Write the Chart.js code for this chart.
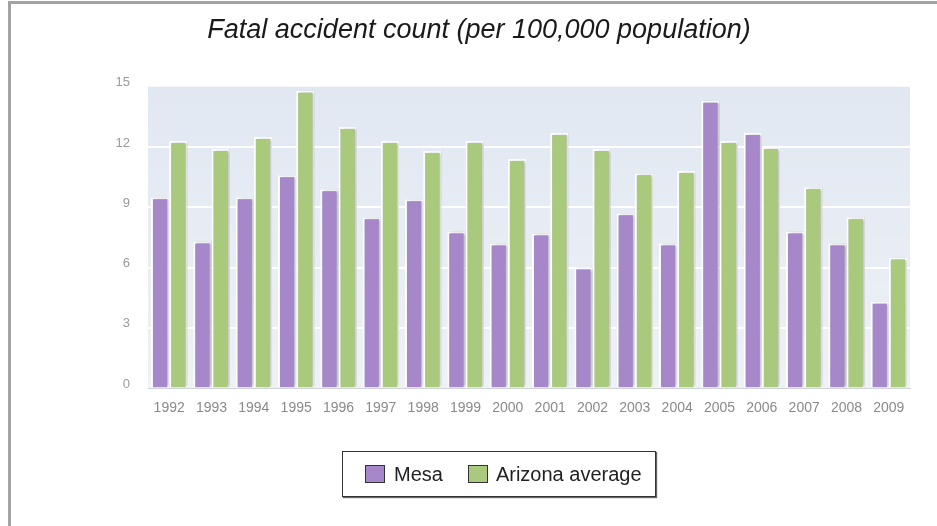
<!DOCTYPE html>
<html>
<head>
<meta charset="utf-8">
<script src="https://cdn.jsdelivr.net/npm/chart.js@4/dist/chart.umd.min.js"></script>
<style>
  html, body { margin: 0; padding: 0; width: 937px; height: 526px; overflow: hidden; background: #fff; }
  #frame { position: absolute; left: 8px; top: 1px; width: 960px; height: 560px;
           border-top: 3px solid #a3a3a3; border-left: 3px solid #a3a3a3; }
  #wrap { position: absolute; left: 11px; top: 0; width: 936px; height: 526px; }
  #legend { position: absolute; left: 342px; top: 451px; width: 312px; height: 44px;
            border: 1px solid #333; box-shadow: 1px 1px 1px #666; background: #fff;
            display: flex; align-items: center; font-family: "Liberation Sans", Arial, sans-serif;
            font-size: 20px; color: #222; }
  .sw { width: 18px; height: 16px; border: 1px solid #333; display: inline-block; }
</style>
</head>
<body>
<div id="frame"></div>
<div id="wrap"><canvas id="c" width="936" height="526"></canvas></div>
<div id="legend"></div>
<script>
// Fatal accidents per 100,000 residents, Mesa vs. the Arizona average
const years = ['1992','1993','1994','1995','1996','1997','1998','1999','2000',
               '2001','2002','2003','2004','2005','2006','2007','2008','2009'];
const mesa    = [9.5, 7.3, 9.5, 10.6, 9.9, 8.5, 9.4, 7.8, 7.2, 7.7, 6.0, 8.7, 7.2, 14.3, 12.7, 7.8, 7.2, 4.3];
const arizona = [12.3, 11.9, 12.5, 14.8, 13.0, 12.3, 11.8, 12.3, 11.4, 12.7, 11.9, 10.7, 10.8, 12.3, 12.0, 10.0, 8.5, 6.5];
const yTicks = { min: 0, max: 15, step: 3 };

const seriesNames  = ['Mesa', 'Arizona average'];
const seriesColors = ['#a687c9', '#a9c97c'];

// light blue plot background
const plotBg = {
  id: 'plotBg',
  beforeDraw(chart) {
    const { ctx, chartArea: a } = chart;
    const g = ctx.createLinearGradient(0, a.top, 0, a.bottom);
    g.addColorStop(0, '#e1e8f2');
    g.addColorStop(1, '#eef1f6');
    ctx.save();
    ctx.fillStyle = g;
    ctx.fillRect(a.left, a.top, a.right - a.left, a.bottom - a.top);
    ctx.restore();
  }
};

// soft drop shadow behind the bars
const barShadow = {
  id: 'barShadow',
  beforeDatasetsDraw(chart) {
    const ctx = chart.ctx;
    ctx.save();
    ctx.shadowColor = 'rgba(0,0,0,0.28)';
    ctx.shadowBlur = 3;
    ctx.shadowOffsetX = 2;
    ctx.shadowOffsetY = 0;
  },
  afterDatasetsDraw(chart) { chart.ctx.restore(); }
};

const chart = new Chart(document.getElementById('c'), {
  type: 'bar',
  data: {
    labels: years,
    datasets: [
      { label: seriesNames[0], data: mesa, backgroundColor: seriesColors[0],
        borderColor: '#ffffff', borderWidth: 2 },
      { label: seriesNames[1], data: arizona, backgroundColor: seriesColors[1],
        borderColor: '#ffffff', borderWidth: 2 }
    ]
  },
  options: {
    responsive: false,
    animation: false,
    categoryPercentage: 0.86,
    barPercentage: 1.0,
    layout: { padding: { left: 37, right: 37, top: 0, bottom: 97 } },
    plugins: {
      legend: { display: false },
      tooltip: { enabled: false },
      title: {
        display: true,
        text: 'Fatal accident count (per 100,000 population)',
        color: '#1a1a1a',
        font: { family: '"Liberation Sans", Arial, sans-serif', size: 27, style: 'italic', weight: 'normal' },
        padding: { top: 14, bottom: 40.3 }
      }
    },
    scales: {
      x: {
        grid: { display: false, drawTicks: false },
        border: { display: true, color: '#cfd3da', width: 1 },
        ticks: { color: '#8a8a8a', padding: 12,
                 font: { family: '"Liberation Sans", Arial, sans-serif', size: 14 } }
      },
      y: {
        min: yTicks.min, max: yTicks.max,
        afterFit(scale) { scale.width = 100; },
        border: { display: false },
        grid: {
          drawTicks: false,
          lineWidth: 2,
          color: (c) => (c.tick && (c.tick.value === yTicks.min || c.tick.value === yTicks.max)) ? 'rgba(0,0,0,0)' : '#ffffff'
        },
        ticks: { stepSize: yTicks.step, color: '#9a9a9a', padding: 18, labelOffset: -4,
                 font: { family: '"Liberation Sans", Arial, sans-serif', size: 13 } }
      }
    }
  },
  plugins: [plotBg, barShadow]
});

// legend box built from the chart's datasets
const legend = document.getElementById('legend');
chart.data.datasets.forEach((ds, i) => {
  const sw = document.createElement('span');
  sw.className = 'sw';
  sw.style.background = ds.backgroundColor;
  sw.style.marginLeft = i === 0 ? '22px' : '25px';
  const tx = document.createElement('span');
  tx.textContent = ds.label;
  tx.style.marginLeft = i === 0 ? '9px' : '8px';
  legend.appendChild(sw);
  legend.appendChild(tx);
});
</script>
</body>
</html>
